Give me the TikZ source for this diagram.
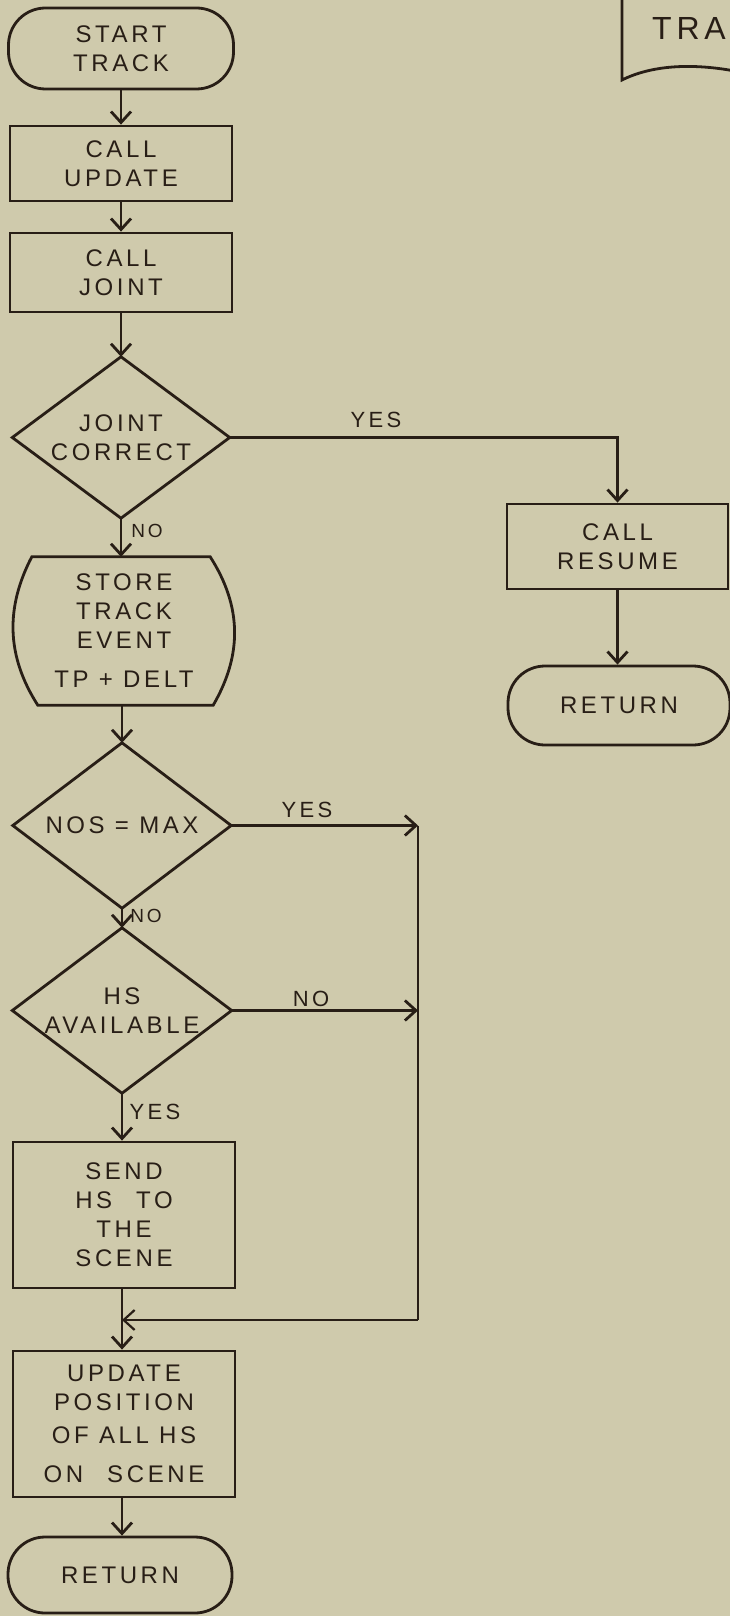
\documentclass[tikz,border=0pt]{standalone}
\usepackage{fontspec}
\setmainfont{Liberation Sans}[LetterSpace=15]
\usetikzlibrary{arrows.meta,calc}
\definecolor{paper}{RGB}{207,202,172}
\definecolor{ink}{RGB}{40,30,22}
\begin{document}
\begin{tikzpicture}[x=1pt,y=-1pt,
  every node/.style={text=ink, font=\fontsize{24}{29}\selectfont},
  line/.style={draw=ink, line width=2.8pt},
  arr/.style={line, -{Straight Barb[length=11pt,width=20pt]}},
  box/.style={line, rectangle, inner sep=0pt, align=center},
  term/.style={box, rounded corners=37pt},
  plain/.style={rectangle, inner sep=0pt, align=center},
  lbl/.style={inner sep=0pt, font=\fontsize{22}{24}\selectfont}
]
\fill[paper] (0,0) rectangle (730,1616);
\useasboundingbox (0,0) rectangle (730,1616);

% title fragment top right
\draw[line] (622,-10) -- (622,80) .. controls (650,66) and (690,62) .. (740,72);
\node[anchor=west, inner sep=0pt, font=\fontsize{32}{40}\selectfont] (title) at (652,28) {TRA};

% main column
\node[term, minimum width=225pt, minimum height=81pt] (start) at (121,48.5) {START\\TRACK};
\node[box, minimum width=222pt, minimum height=75pt] (upd) at (121,163.5) {CALL\\UPDATE};
\node[box, minimum width=222pt, minimum height=79pt] (joint) at (121,272.5) {CALL\\JOINT};
\node[plain, minimum width=217pt, minimum height=161pt] (jc) at (121,437.5) {JOINT\\CORRECT};
\draw[line] (jc.north) -- (jc.east) -- (jc.south) -- (jc.west) -- cycle;

\node[plain, minimum width=222pt, minimum height=148pt] (store) at (124,631) {STORE\\TRACK\\EVENT\\[10pt]TP + DELT};
\draw[line] ($(store.north west)+(19,0)$) -- ($(store.north east)+(-25,0)$)
  .. controls ($(store.north east)+(7,50)$) and ($(store.south east)+(7,-50)$) .. ($(store.south east)+(-22,0)$)
  -- ($(store.south west)+(25,0)$)
  .. controls ($(store.south west)+(-7,-50)$) and ($(store.north west)+(-7,50)$) .. ($(store.north west)+(19,0)$) -- cycle;

\node[plain, minimum width=218pt, minimum height=165pt] (nos) at (122,825.5) {NOS = MAX};
\draw[line] (nos.north) -- (nos.east) -- (nos.south) -- (nos.west) -- cycle;

\node[plain, minimum width=219pt, minimum height=165pt] (hs) at (122,1010.5) {HS\\AVAILABLE};
\draw[line] (hs.north) -- (hs.east) -- (hs.south) -- (hs.west) -- cycle;

\node[box, minimum width=222pt, minimum height=146pt] (send) at (124,1215) {SEND\\HS\quad TO\\THE\\SCENE};
\node[box, minimum width=222pt, minimum height=146pt] (upos) at (124,1424) {UPDATE\\POSITION\\[4pt]OF ALL HS\\[10pt]ON\quad SCENE};
\node[term, minimum width=224pt, minimum height=76pt] (ret) at (120,1575) {RETURN};

% right column
\node[box, minimum width=221pt, minimum height=85pt] (resume) at (617.5,546.5) {CALL\\RESUME};
\node[term, minimum width=222pt, minimum height=79pt] (ret2) at (619,705.5) {RETURN};

% helper coordinates
\coordinate (c1) at (617.5,437.5);
\coordinate (r1) at (418,825.5);
\coordinate (r2) at (418,1010.5);
\coordinate (r3) at (418,1320);
\coordinate (m) at (122,1320);

% connectors
\draw[arr] (start.south -| upd.north) -- (upd.north);
\draw[arr] (upd.south) -- (joint.north);
\draw[arr] (joint.south) -- (jc.north);
\draw[arr] (jc.south) -- (jc.south |- store.north);
\draw[arr] (jc.east) -- (c1) -- (resume.north);
\draw[arr] (resume.south) -- (resume.south |- ret2.north);
\draw[arr] (nos.north |- store.south) -- (nos.north);
\draw[arr] (nos.south) -- (hs.north);
\draw[arr] (nos.east) -- (r1);
\draw[arr] (hs.east) -- (r2);
\draw[line] (r1) -- (r3);
\draw[arr, line width=2.2pt] (r3) -- (m);
\draw[arr] (hs.south) -- (hs.south |- send.north);
\draw[arr] (hs.south |- send.south) -- (hs.south |- upos.north);
\draw[arr] (hs.south |- upos.south) -- (hs.south |- ret.north);

% labels
\node[lbl] (l1) at (376,420) {YES};
\node[lbl, font=\fontsize{19}{22}\selectfont] (l2) at (147,531) {NO};
\node[lbl] (l3) at (307,810) {YES};
\node[lbl, font=\fontsize{19}{22}\selectfont] (l4) at (146,916) {NO};
\node[lbl] (l5) at (311,999) {NO};
\node[lbl] (l6) at (155,1112) {YES};
\end{tikzpicture}
\end{document}
